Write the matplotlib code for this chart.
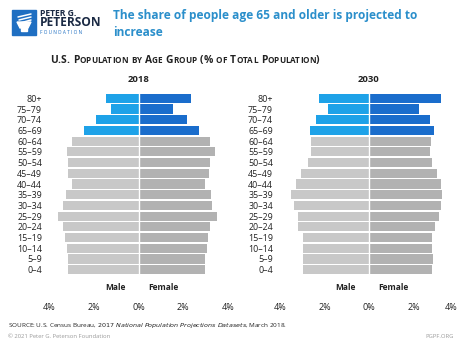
import numpy as np
import matplotlib.pyplot as plt
from matplotlib.patches import Rectangle, Polygon
from matplotlib.transforms import blended_transform_factory

# age groups from youngest to oldest (bottom to top)
ages = ['0–4', '5–9', '10–14', '15–19', '20–24', '25–29', '30–34', '35–39',
        '40–44', '45–49', '50–54', '55–59', '60–64', '65–69', '70–74', '75–79', '80+']

# share of total population (%)
male_2018 = [3.15, 3.15, 3.20, 3.30, 3.38, 3.62, 3.38, 3.24,
             2.98, 3.13, 3.13, 3.20, 2.95, 2.43, 1.89, 1.23, 1.46]
female_2018 = [2.98, 2.98, 3.05, 3.10, 3.20, 3.50, 3.27, 3.23,
               2.98, 3.17, 3.20, 3.42, 3.20, 2.72, 2.16, 1.52, 2.34]
male_2030 = [2.96, 2.96, 2.95, 2.96, 3.19, 3.21, 3.36, 3.51,
             3.29, 3.04, 2.74, 2.62, 2.62, 2.67, 2.40, 1.84, 2.25]
female_2030 = [2.83, 2.86, 2.83, 2.83, 2.98, 3.13, 3.23, 3.30,
               3.23, 3.05, 2.83, 2.76, 2.79, 2.90, 2.74, 2.24, 3.23]

tick_vals = [-4, -2, 0, 2, 4]
tick_text = ['4%', '2%', '0%', '2%', '4%']

BLUE_M, BLUE_F = '#1ea2e8', '#1a6dcc'
GRAY_M, GRAY_F = '#c8c8c8', '#b2b2b2'
TITLE_BLUE = '#2b8fcb'
DARK = '#222222'

plt.rcParams['font.family'] = ['Open Sans', 'DejaVu Sans']

W, H = 458, 343
fig = plt.figure(figsize=(W / 100, H / 100), dpi=100)
fig.patch.set_facecolor('white')


def fx(px):
    return px / W


def fy(py):
    return 1 - py / H


def pyramid(left_px, width_px, year, male, female):
    ax = fig.add_axes([fx(left_px), fy(275), width_px / W, 182 / H])
    y = np.arange(len(ages))
    older = y >= 13
    mc = [BLUE_M if o else GRAY_M for o in older]
    fc = [BLUE_F if o else GRAY_F for o in older]
    ax.barh(y, -np.array(male), height=0.86, color=mc, edgecolor='none')
    ax.barh(y, female, height=0.86, color=fc, edgecolor='none')
    ax.axvline(0, color='white', lw=1.0)
    ax.set_xlim(-4, 4)
    ax.set_ylim(-0.5, len(ages) - 0.5)
    ax.set_yticks(y)
    ax.set_yticklabels(ages, fontsize=6.4, color=DARK)
    ax.tick_params(axis='y', length=0, pad=5)
    ax.set_xticks([])
    for s in ax.spines.values():
        s.set_visible(False)
    ax.set_facecolor('none')

    tr = blended_transform_factory(ax.transData, fig.transFigure)
    ax.text(0, fy(80), str(year), transform=tr, ha='center', va='center',
            fontsize=6.8, fontweight='bold', color=DARK)
    ax.text(-1.05, fy(287), 'Male', transform=tr, ha='center', va='center',
            fontsize=6, fontweight='bold', color=DARK)
    ax.text(1.1, fy(287), 'Female', transform=tr, ha='center', va='center',
            fontsize=6, fontweight='bold', color=DARK)
    for v, t in zip(tick_vals, tick_text):
        lbl = ax.text(v, fy(307), t, transform=tr, ha='center', va='center',
                      fontsize=6.5, color=DARK, clip_on=False)
        # keep the outermost label inside the figure edge
        if left_px + width_px >= W and v == tick_vals[-1]:
            lbl.set_ha('right')
            lbl.set_x(3.96)
    return ax


pyramid(49, 179, 2018, male_2018, female_2018)
pyramid(280, 178, 2030, male_2030, female_2030)

# logo block
ax_logo = fig.add_axes([0, 0, 1, 1])
ax_logo.set_xlim(0, W)
ax_logo.set_ylim(H, 0)
ax_logo.axis('off')
ax_logo.add_patch(Rectangle((12, 10), 24, 25, color='#1f6fc2'))
ax_logo.add_patch(Polygon([[17, 22], [31, 22], [28, 28], [20, 28]], color='white'))
for i, yy in enumerate([14, 17, 20]):
    ax_logo.plot([18 + i, 31], [yy + 3, yy], color='white', lw=1.1,
                 solid_capstyle='round')
ax_logo.add_patch(Rectangle((21, 28), 6, 3, color='white'))
fig.text(fx(40), fy(13), 'PETER G.', fontsize=6.2, fontweight='bold',
         color='#1b2a44', va='center')
fig.text(fx(39.5), fy(23), 'PETERSON', fontsize=8.6, fontweight='bold',
         color='#1b2a44', va='center')
fig.text(fx(40.5), fy(32.5), 'F O U N D A T I O N', fontsize=3.4,
         color='#1f6fc2', va='center')

fig.text(fx(113), fy(16), 'The share of people age 65 and older is projected to',
         fontsize=8.6, fontweight='bold', color=TITLE_BLUE, va='center')
fig.text(fx(113), fy(32), 'increase',
         fontsize=8.6, fontweight='bold', color=TITLE_BLUE, va='center')


def small_caps(x_px, y_px, text, size, small):
    """Draw text as small caps by chaining pieces left to right."""
    renderer = fig.canvas.get_renderer()
    x = x_px
    for word in text.split(' '):
        for ch in word:
            big = ch.isupper() or not ch.isalpha()
            t = fig.text(fx(x), fy(y_px), ch.upper(), fontsize=size if big else small,
                         fontweight='bold', color=DARK, va='baseline')
            x += t.get_window_extent(renderer).width
        sp = fig.text(0, 0, ' ', fontsize=size, fontweight='bold')
        x += sp.get_window_extent(renderer).width * 1.25
        sp.remove()


small_caps(50, 63, 'U.S. Population by Age Group (% of Total Population)', 7.4, 5.9)

fig.text(fx(8), fy(326),
         'SOURCE: U.S. Census Bureau, $\\it{2017\\ National\\ Population\\ Projections\\ Datasets}$, March 2018.',
         fontsize=4.6, color=DARK, va='center')
fig.text(fx(8), fy(336), '© 2021 Peter G. Peterson Foundation', fontsize=4.2,
         color='#9a9a9a', va='center')
fig.text(fx(454), fy(336), 'PGPF.ORG', fontsize=4.2, color='#9a9a9a',
         va='center', ha='right')

fig.savefig('out.png', dpi=100, facecolor='white')
